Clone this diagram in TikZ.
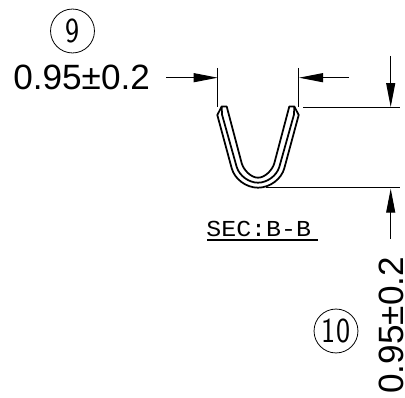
\documentclass[tikz,border=0pt]{standalone}
\usepackage{fontspec}
\setmainfont{Liberation Sans}
\setmonofont{Liberation Mono}
\usetikzlibrary{arrows.meta}
\tikzstyle{balloon}=[draw,circle,minimum size=25pt,inner sep=0pt,line width=.45pt]
\tikzstyle{dimtext}=[font=\fontsize{20}{20}\selectfont,inner sep=0pt]
\tikzstyle{cadtext}=[font=\sffamily\fontsize{20}{20}\selectfont,inner sep=0pt,xscale=.85]
\tikzstyle{sectext}=[font=\ttfamily\fontsize{13}{13}\selectfont,inner sep=0pt,xscale=1.09]
\tikzstyle{dimline}=[line width=.55pt,-{Triangle[length=.48cm,width=.18cm]}]
\tikzstyle{extline}=[line width=.55pt]
\tikzstyle{profile}=[line width=1pt]
\begin{document}
\begin{tikzpicture}[x=.02cm,y=-.02cm]
\useasboundingbox (0,0) rectangle (405,398);
% extension lines
\coordinate (el1) at (217.7,68);
\coordinate (el2) at (217.7,107);
\coordinate (er1) at (298,68);
\coordinate (er2) at (298,107);
\coordinate (ht1) at (303,107);
\coordinate (ht2) at (400,107);
\coordinate (hb1) at (266,187.7);
\coordinate (hb2) at (400,187.7);
\draw[extline] (el1) -- (el2);
\draw[extline] (er1) -- (er2);
\draw[extline] (ht1) -- (ht2);
\draw[extline] (hb1) -- (hb2);
% arrows
\coordinate (al) at (166,77.7);
\coordinate (ar) at (349,77.7);
\coordinate (at) at (390.7,56);
\coordinate (ab) at (390.7,239);
\draw[dimline] (al) -- (el1 |- al);
\draw[dimline,shorten >=.02cm] (ar) -- (er1 |- ar);
\draw[dimline] (at) -- (at |- ht1);
\draw[dimline,shorten >=.02cm] (ab) -- (ab |- hb1);
% section
\draw[profile,line join=round] (221.7,106.5) -- (217.3,115) -- (231.7,168.3)
  .. controls (234.6,179) and (246,187.7) .. (258,187.7)
  .. controls (270,187.7) and (281.4,179) .. (284.3,168.3)
  -- (298.7,115) -- (294.3,106.5) -- (289.3,106.5)
  -- (274.3,163.3) .. controls (272.4,170) and (265,177.7) .. (258,177.7)
  .. controls (251,177.7) and (243.6,170) .. (241.7,163.3)
  -- (226.7,106.5) -- cycle;
\draw[profile,line join=round] (221.7,106.5) -- (222,114.5) -- (236.7,167)
  .. controls (239.5,176) and (249,182.7) .. (258,182.7)
  .. controls (267,182.7) and (276.5,176) .. (279.3,167)
  -- (294,114.5) -- (294.3,106.5);
% labels
\node[balloon] (n9) at (72.5,31) {};
\node[balloon] (n10) at (336,331) {};
\node[dimtext,anchor=base west] (d1) at (13,90) {0.95±0.2};
\node[dimtext,anchor=base west,rotate=90] (d2) at (403,394) {0.95±0.2};
\node[sectext,anchor=base west] (sec) at (206,236.5) {SEC:B-B};
\coordinate (u1) at (207,240);
\coordinate (u2) at (318,240);
\draw[line width=.8pt] (u1) -- (u2);
\node[cadtext] (t9) at (n9) {9};
\node[cadtext] (t10) at (n10) {10};
\end{tikzpicture}
\end{document}
